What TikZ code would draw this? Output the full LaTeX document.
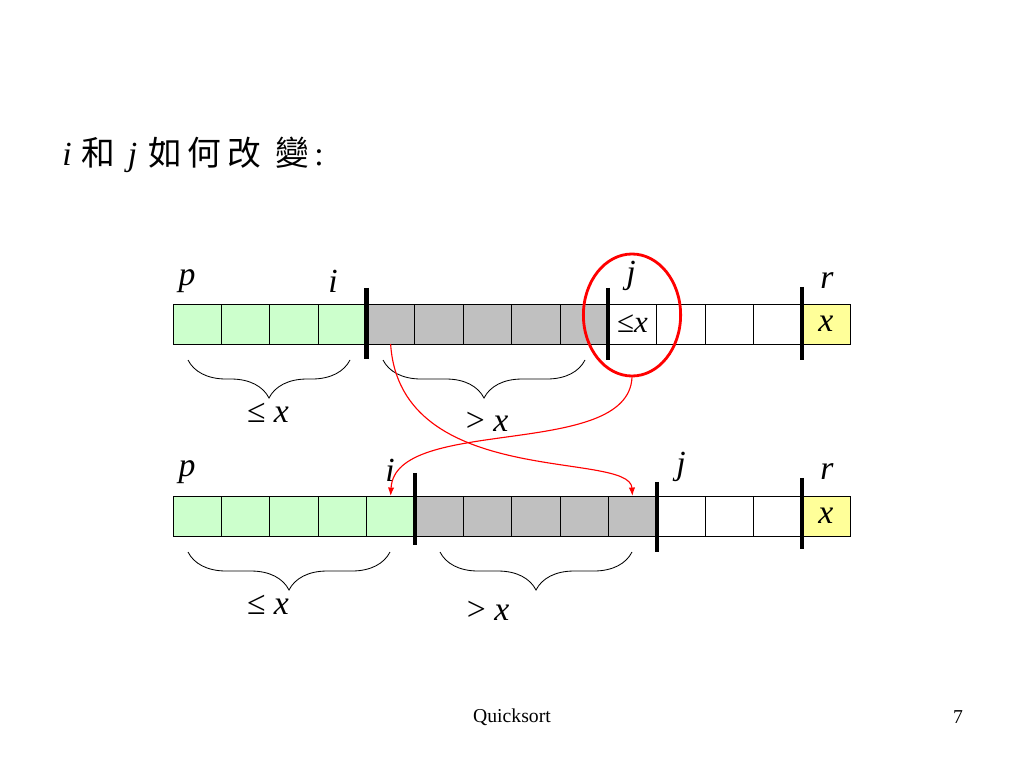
\documentclass[tikz,border=0pt]{standalone}
\usepackage{fontspec}
\setmainfont{Liberation Serif}
\newfontfamily\cjk{Noto Sans CJK TC}
\usetikzlibrary{shapes.geometric,calc,decorations.pathreplacing,arrows.meta}
\definecolor{lofill}{RGB}{204,255,204}
\definecolor{hifill}{RGB}{192,192,192}
\definecolor{pivfill}{RGB}{255,255,153}

\begin{document}
\begin{tikzpicture}[%
    x=0.025cm,
    y=-0.025cm,
    cell/.style={%
        draw,
        line width=0.5pt,
        minimum width=1.209cm,
        minimum height=1cm,
        inner sep=0pt,
        outer sep=0pt,
    },
    lo/.style={cell, fill=lofill},
    hi/.style={cell, fill=hifill},
    piv/.style={cell, fill=pivfill},
    bar/.style={line width=3pt},
    idx/.style={font=\fontsize{24}{28}\selectfont\itshape},
    lbl/.style={font=\fontsize{24}{28}\selectfont},
    brc/.style={decorate, decoration={brace, mirror, amplitude=0.95cm}, line width=0.6pt},
    swap/.style={red, line width=0.8pt, -{Latex[length=6pt,width=4.5pt]}},
]
\fill[white] (0,0) rectangle (1024,768);
\useasboundingbox (0,0) rectangle (1024,768);

\node[anchor=west, font=\fontsize{24}{28}\selectfont, inner sep=0pt] (title) at (62,155)
    {\textit{i}\hspace{7pt}{\cjk 和}\hspace{9pt}\textit{j}\hspace{8pt}{\cjk 如\hspace{4pt}何\hspace{4pt}改\hspace{10pt}變}\hspace{4pt}:};

% before
\foreach \k in {0,...,13}{%
    \pgfmathsetmacro\cx{173+48.36*(\k+0.5)}
    \ifnum\k<4 \def\s{lo}\else\ifnum\k<9 \def\s{hi}\else\ifnum\k<13 \def\s{cell}\else\def\s{piv}\fi\fi\fi
    \node[\s] (t\k) at (\cx,324) {};
}
\draw[bar] ($(t3.north east)+(0,-16)$) -- ($(t3.south east)+(0,15)$);
\draw[bar] ($(t8.north east)+(0,-16)$) -- ($(t8.south east)+(0,16)$);
\draw[bar] ($(t12.north east)+(0,-17)$) -- ($(t12.south east)+(0,16)$);
\node[idx] (p1) at (187,281) {p};
\node[idx] (i1) at (333,281) {i};
\node[idx] (j1) at (631,276) {j};
\node[idx] (r1) at (827,281) {r};
\node[idx] (x1) at (t13) {x};
\node[lbl, font=\fontsize{22}{26}\selectfont] (le) at (t9) {≤\textit{x}};
\draw[brc] (188,360) -- (350,360);
\draw[brc] (383,360) -- (585,360);
\node[lbl] (lo1) at (268,413) {≤ \textit{x}};
\node[lbl] (hi1) at (487,422) {> \textit{x}};
\node[draw=red, line width=2pt, ellipse, minimum width=2.43cm, minimum height=3.05cm, inner sep=0pt] (ring) at (632,315) {};

% after
\foreach \k in {0,...,13}{%
    \pgfmathsetmacro\cx{173+48.36*(\k+0.5)}
    \ifnum\k<5 \def\s{lo}\else\ifnum\k<10 \def\s{hi}\else\ifnum\k<13 \def\s{cell}\else\def\s{piv}\fi\fi\fi
    \node[\s] (b\k) at (\cx,516) {};
}
\draw[bar] ($(b4.north east)+(0,-23)$) -- ($(b4.south east)+(0,9)$);
\draw[bar] ($(b9.north east)+(0,-14)$) -- ($(b9.south east)+(0,16)$);
\draw[bar] ($(b12.north east)+(0,-18)$) -- ($(b12.south east)+(0,13)$);
\node[idx] (p2) at (187,472) {p};
\node[idx] (i2) at (390,470) {i};
\node[idx] (j2) at (681,467) {j};
\node[idx] (r2) at (827,472) {r};
\node[idx] (x2) at (b13) {x};
\draw[brc] (188,552) -- (390,552);
\draw[brc] (440,552) -- (632,552);
\node[lbl] (lo2) at (268,605) {≤ \textit{x}};
\node[lbl] (hi2) at (488,611) {> \textit{x}};

\draw[swap] (t4.south) .. controls (400,490) and (630,450) .. (b9.north);
\draw[swap] (ring.south) .. controls (628,460) and (395,415) .. (b4.north);

\node[font=\fontsize{14}{16}\selectfont] (foot) at (512,717) {Quicksort};
\node[font=\fontsize{14}{16}\selectfont] (pg) at (958,717) {7};
\end{tikzpicture}
\end{document}
